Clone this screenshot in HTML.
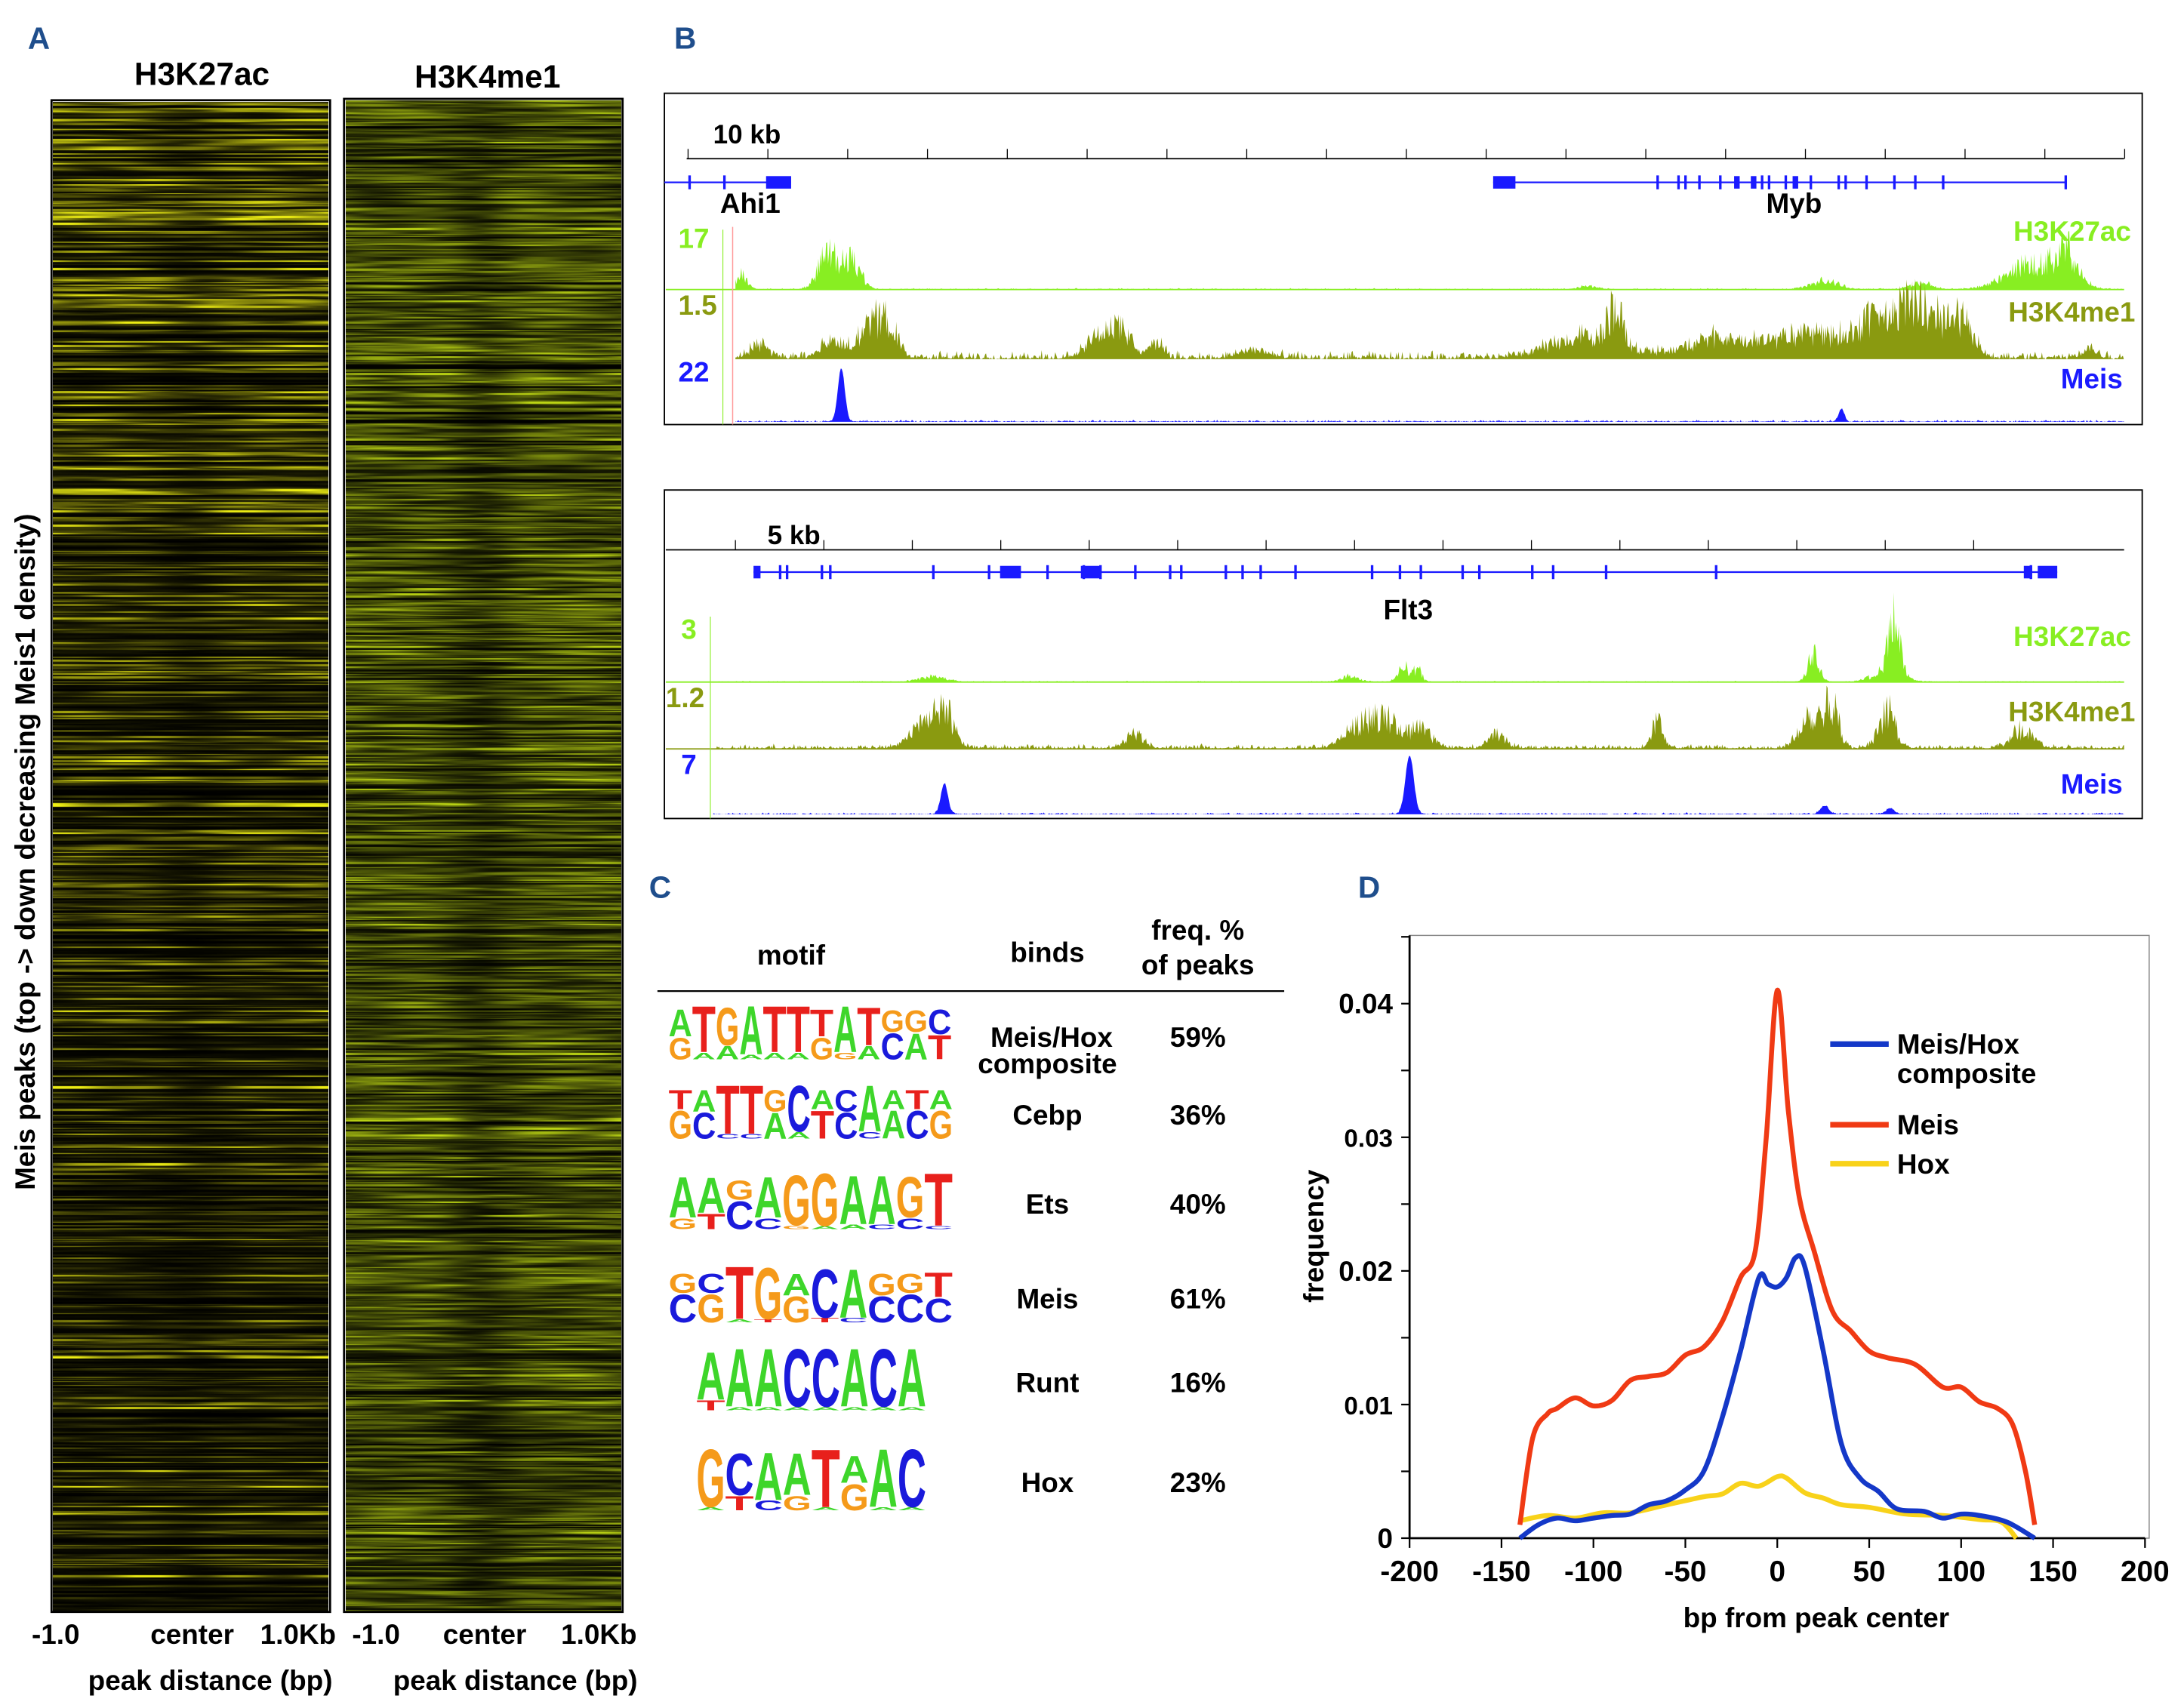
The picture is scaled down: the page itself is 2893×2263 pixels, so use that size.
<!DOCTYPE html>
<html><head><meta charset="utf-8">
<style>
html,body{margin:0;padding:0;background:#fff;}
#page{position:relative;width:2893px;height:2263px;overflow:hidden;background:#fff;}
svg{position:absolute;left:0;top:0;}
canvas{position:absolute;}
text{font-family:"Liberation Sans",Arial,sans-serif;font-weight:bold;}
</style></head>
<body>
<div id="page">
<canvas id="hm1"></canvas>
<canvas id="hm2"></canvas>
<svg id="svg" width="2893" height="2263" viewBox="0 0 1568 1227" preserveAspectRatio="none">
<text x="20" y="35" font-size="22" fill="#1f4e8c">A</text>
<text x="145" y="61" font-size="23" text-anchor="middle">H3K27ac</text>
<text x="350" y="63" font-size="23" text-anchor="middle">H3K4me1</text>
<rect x="37" y="72" width="200" height="1086" fill="none" stroke="#000" stroke-width="1.5"/>
<rect x="247" y="71" width="200" height="1087" fill="none" stroke="#000" stroke-width="1.5"/>
<text transform="translate(25,612) rotate(-90)" font-size="20" text-anchor="middle">Meis peaks  (top -&gt; down decreasing Meis1 density)</text>
<g font-size="20">
<text x="40" y="1181" text-anchor="middle">-1.0</text>
<text x="138" y="1181" text-anchor="middle">center</text>
<text x="214" y="1181" text-anchor="middle">1.0Kb</text>
<text x="270" y="1181" text-anchor="middle">-1.0</text>
<text x="348" y="1181" text-anchor="middle">center</text>
<text x="430" y="1181" text-anchor="middle">1.0Kb</text>
</g>
<text x="151" y="1214" font-size="20" text-anchor="middle">peak distance (bp)</text>
<text x="370" y="1214" font-size="20" text-anchor="middle">peak distance (bp)</text>

<text x="484" y="35" font-size="22" fill="#1f4e8c">B</text>
<rect x="477" y="67" width="1061" height="238" fill="none" stroke="#000" stroke-width="1"/>
<rect x="477" y="352" width="1061" height="236" fill="none" stroke="#000" stroke-width="1"/>
<g id="browser"></g>

<text x="466" y="645" font-size="22" fill="#1f4e8c">C</text>
<text x="568" y="693" font-size="20" text-anchor="middle">motif</text>
<text x="752" y="691" font-size="20" text-anchor="middle">binds</text>
<text x="860" y="675" font-size="20" text-anchor="middle">freq. %</text>
<text x="860" y="700" font-size="20" text-anchor="middle">of peaks</text>
<line x1="472" y1="712" x2="922" y2="712" stroke="#000" stroke-width="1.2"/>
<g id="motifs"></g>

<text x="975" y="645" font-size="22" fill="#1f4e8c">D</text>
<g id="chartD"></g>
</svg>
</div>
<script>
const S = 2893/1568;
const NS = 'http://www.w3.org/2000/svg';
function mk(tag, attrs, parent){const e=document.createElementNS(NS,tag);for(const k in attrs)e.setAttribute(k,attrs[k]);if(parent)parent.appendChild(e);return e;}
let seed=12345;function rnd(){seed=(seed*1103515245+12345)%2147483648;return seed/2147483648;}

/* ---------- Heatmaps (texture) ---------- */
function heat(id,x,y,w,h,kind){
  const c=document.getElementById(id);
  const W=Math.round(w*S),H=Math.round(h*S);
  c.width=W;c.height=H;c.style.left=(x*S)+'px';c.style.top=(y*S)+'px';
  const ctx=c.getContext('2d');const img=ctx.createImageData(W,H);const d=img.data;
  let r=0;
  while(r<H){
    const rh=1+Math.floor(rnd()*2.5);
    const t=r/H;
    let amp;
    if(kind===1){
      const dark=rnd()<0.25+0.35*t;
      amp=dark?rnd()*0.15:Math.pow(rnd(),1.1)*(1.0-0.5*t);
      if(rnd()<0.05)amp=0.95;
    } else {
      const dark=rnd()<0.2;
      amp=dark?rnd()*0.2:(0.3+0.55*Math.pow(rnd(),0.8))*(1-0.15*t);
      if(rnd()<0.05)amp=1;
    }
    const ph=rnd()*6,ph2=rnd()*6,ph3=rnd()*6;
    const dip=kind===1?0.1+0.45*rnd():0.2+0.5*rnd();
    const cx=0.5+0.06*Math.sin(r/H*14+ph3)+0.04*(rnd()-0.5);
    const cw=0.07+0.06*rnd();
    for(let xx=0;xx<W;xx++){
      const u=xx/W;
      const g=Math.exp(-Math.pow((u-cx)/cw,2));
      let v=amp*(1-dip*g)*(0.7+0.3*Math.sin(u*7+ph)+0.15*Math.sin(u*19+ph2));
      v=Math.max(0,Math.min(1,v));
      let R,G,B;
      if(kind===1){R=240*v;G=240*v;B=20*v;}else{R=190*v;G=215*v;B=20*v;}
      for(let yy=r;yy<Math.min(H,r+rh);yy++){const i=(yy*W+xx)*4;d[i]=R;d[i+1]=G;d[i+2]=B;d[i+3]=255;}
    }
    r+=rh;
  }
  ctx.putImageData(img,0,0);
}
heat('hm1',38,73,198,1084,1);
heat('hm2',248,72,198,1085,2);

/* ---------- Browser tracks ---------- */
const br=document.getElementById('browser');
const myb_k27=[[532,12,4],[595,30,7],[612,22,6],[1140,3,6],[1310,7,10],[1380,5,8],[1460,22,18],[1485,25,8]];
const myb_k4=[[545,12,6],[600,14,10],[627,28,8],[640,20,6],[790,18,10],[805,18,8],[830,12,5],[900,6,10],[1140,18,25],[1160,30,5],[1230,14,20],[1300,20,30],[1345,24,12],[1370,35,10],[1390,28,12],[1410,24,8],[1500,8,5]];
const myb_meis=[[604,38,2.5],[1322,9,2]];
const flt_k27=[[670,4,10],[970,5,6],[1008,13,4],[1018,10,3],[1302,22,4],[1360,42,4],[1355,10,10]];
const flt_k4=[[665,24,10],[680,22,6],[815,12,6],[975,18,10],[995,22,10],[1020,16,8],[1075,12,6],[1190,22,4],[1300,28,8],[1315,35,5],[1355,30,6],[1452,14,8]];
const flt_meis=[[678,22,2.5],[1012,42,3],[1310,6,3],[1357,4,3]];
function track(x0,x1,base,peaks,noise,col,spiky,name){
  let p='M'+x0+','+base;
  for(let x=x0;x<=x1;x+=0.7){
    let v=0;for(const k of peaks){v+=k[1]*Math.exp(-0.5*Math.pow((x-k[0])/k[2],2));}
    v=v*(spiky?(0.4+0.9*rnd()):1)+noise*rnd()*rnd();
    p+=' L'+x.toFixed(1)+','+(base-v).toFixed(1);
  }
  p+=' L'+x1+','+base+' Z';
  const e=mk('path',{d:p,fill:col,stroke:'none'},br);
  
  
}
function scaleBar(y,x0,x1,ticks,label,lx,ly,name){
  const g=mk('g',{},br);
  
  
  mk('line',{x1:x0,y1:y,x2:x1,y2:y,stroke:'#000','stroke-width':1},g);
  for(const t of ticks)mk('line',{x1:t,y1:y-7,x2:t,y2:y,stroke:'#000','stroke-width':0.7},g);
  const tx=mk('text',{x:lx,y:ly,'font-size':19},g);tx.textContent=label;
}
function gene(y,x0,x1,exons,thick,name){
  const g=mk('g',{},br);
  
  
  mk('line',{x1:x0,y1:y,x2:x1,y2:y,stroke:'#1a1aff','stroke-width':1.2},g);
  for(const e of exons)mk('rect',{x:e-0.8,y:y-5,width:1.8,height:10,fill:'#1a1aff'},g);
  for(const t of thick)mk('rect',{x:t[0],y:y-4.5,width:t[1],height:9,fill:'#1a1aff'},g);
}
function label(x,y,txt,col,size,anchor,name){
  const t=mk('text',{x:x,y:y,'font-size':size,fill:col,'text-anchor':anchor||'start'},br);
  t.textContent=txt;
  
  
}
const K27='#88ee22',K4='#8a9a10',MB='#1a1aff';
const t1=[];for(let i=0;i<19;i++)t1.push(494+i*57.3);
scaleBar(114,493,1525,t1,'10 kb',512,103,'scale-bar-10kb');
gene(131,477,568,[495,520],[[550,18]],'gene-ahi1');
gene(131,1072,1483,[1190,1205,1210,1220,1235,1265,1270,1282,1300,1320,1325,1340,1360,1375,1395,1483],[[1072,16],[1245,4],[1257,4],[1287,4]],'gene-myb');
label(517,153,'Ahi1','#000',20,'start','gene-label-ahi1');
label(1268,153,'Myb','#000',20,'start','gene-label-myb');
mk('line',{x1:478,y1:208,x2:1525,y2:208,stroke:K27,'stroke-width':1},br);
track(528,1525,208,myb_k27,1.2,K27,true,'track-myb-h3k27ac');
track(528,1525,258,myb_k4,7,K4,true,'track-myb-h3k4me1');
track(528,1525,303,myb_meis,1.5,MB,false,'track-myb-meis');
mk('line',{x1:526,y1:163,x2:526,y2:305,stroke:'#ff9999','stroke-width':0.8},br);
mk('line',{x1:519,y1:165,x2:519,y2:305,stroke:K27,'stroke-width':0.6},br);
label(487,178,'17',K27,20,'start','axis-max-myb-h3k27ac');
label(487,226,'1.5',K4,20,'start','axis-max-myb-h3k4me1');
label(487,274,'22',MB,20,'start','axis-max-myb-meis');
label(1530,173,'H3K27ac',K27,20,'end','track-name-myb-h3k27ac');
label(1533,231,'H3K4me1',K4,20,'end','track-name-myb-h3k4me1');
label(1524,279,'Meis',MB,20,'end','track-name-myb-meis');
const t2=[];for(let i=0;i<15;i++)t2.push(528+i*63.5);
scaleBar(395,478,1525,t2,'5 kb',551,391,'scale-bar-5kb');
gene(411,541,1477,[560,565,590,596,670,710,752,778,790,815,840,848,880,892,905,930,985,1005,1020,1050,1062,1100,1115,1153,1232,1458],[[541,5],[718,15],[776,14],[1453,6],[1463,14]],'gene-flt3');
label(1011,445,'Flt3','#000',20,'middle','gene-label-flt3');
mk('line',{x1:478,y1:490,x2:1525,y2:490,stroke:K27,'stroke-width':1},br);
track(512,1525,490,flt_k27,1,K27,true,'track-flt3-h3k27ac');
track(512,1525,538,flt_k4,4,K4,true,'track-flt3-h3k4me1');
track(512,1525,585,flt_meis,1.5,MB,false,'track-flt3-meis');
mk('line',{x1:478,y1:538,x2:1525,y2:538,stroke:K4,'stroke-width':1},br);
mk('line',{x1:510,y1:443,x2:510,y2:588,stroke:K27,'stroke-width':0.6},br);
label(489,459,'3',K27,20,'start','axis-max-flt3-h3k27ac');
label(478,508,'1.2',K4,20,'start','axis-max-flt3-h3k4me1');
label(489,556,'7',MB,20,'start','axis-max-flt3-meis');
label(1530,464,'H3K27ac',K27,20,'end','track-name-flt3-h3k27ac');
label(1533,518,'H3K4me1',K4,20,'end','track-name-flt3-h3k4me1');
label(1524,570,'Meis',MB,20,'end','track-name-flt3-meis');

/* ---------- Motifs ---------- */
const mg=document.getElementById('motifs');
const COL={A:'#3ed62a',C:'#1a1adb',G:'#f59a1a',T:'#e8201c'};
const motifMain=['ATGATTTATGGC','TATTGCACAATA','AAGAGGAAGT','GCTGACAGGT','AAACCACA','GCAATAAC'];
const motifSub=['GAAAAAGGACAT','GCCCAATCCACG','GTCCGAACCC','CGATGTCCCC','TAAAAAAA','ATCGAGAA'];
const motifH=[[.5,.85,.7,.9,.85,.85,.5,.85,.7,.4,.4,.45],[.35,.4,.9,.9,.4,.85,.35,.4,.85,.35,.35,.35],[.75,.65,.35,.75,.92,.97,.9,.9,.75,.97],[.35,.35,.97,.95,.4,.9,.9,.4,.35,.45],[.8,.97,.97,.97,.97,.97,.97,.97],[.97,.7,.8,.7,.97,.45,.97,.97]];
const motifBinds=[['Meis/Hox','composite'],['Cebp'],['Ets'],['Meis'],['Runt'],['Hox']];
const motifFreq=['59%','36%','40%','61%','16%','23%'];
const rowBase=[761,818,883,950,1013,1085];
const rowX=[[480,683],[480,684],[480,684],[480,684],[500,665],[500,665]];
const rowText=[752,808,872,940,1000,1072];
for(let i=0;i<motifMain.length;i++){
  const g=mk('g',{},mg);
  
  
  const s=motifMain[i],n=s.length,x0=rowX[i][0],wl=(rowX[i][1]-x0)/n,Htot=i>=4?44:40,base=rowBase[i];
  for(let j=0;j<n;j++){
    const h=motifH[i][j];
    const sub=Math.max(2,(1-h)*0.8*Htot);
    const mh=h*Htot;
    const put=(ch,yb,hp)=>{
      const t=mk('text',{x:0,y:0,'font-size':20,fill:COL[ch],textLength:wl,lengthAdjust:'spacingAndGlyphs',transform:`translate(${(x0+j*wl).toFixed(1)},${yb.toFixed(1)}) scale(1,${(hp/14.4).toFixed(3)})`},g);
      t.textContent=ch;
    };
    put(motifSub[i][j],base,sub);
    put(s[j],base-sub-0.5,mh);
  }
  const b=motifBinds[i];
  if(b.length===2){
    const t1=mk('text',{x:755,y:rowText[i],'font-size':20,'text-anchor':'middle'},g);t1.textContent=b[0];
    const t2=mk('text',{x:752,y:rowText[i]+19,'font-size':20,'text-anchor':'middle'},g);t2.textContent=b[1];
  } else {const t=mk('text',{x:752,y:rowText[i],'font-size':20,'text-anchor':'middle'},g);t.textContent=b[0];}
  const f=mk('text',{x:860,y:rowText[i],'font-size':20,'text-anchor':'middle'},g);f.textContent=motifFreq[i];
}

/* ---------- Chart D ---------- */
const xTicks=[-200,-150,-100,-50,0,50,100,150,200];
const yTicks=[0,0.01,0.02,0.03,0.04];
const yTickLabels=['0','0.01','0.02','0.03','0.04'];
const compX=[-140,-130,-120,-110,-100,-90,-80,-70,-60,-50,-40,-30,-20,-10,-5,0,5,10,15,25,35,45,55,65,80,90,100,110,125,140];
const compY=[0,0.001,0.0015,0.0013,0.0015,0.0017,0.0018,0.0025,0.0028,0.0036,0.005,0.009,0.014,0.0195,0.019,0.0188,0.0195,0.021,0.0203,0.014,0.007,0.0045,0.0035,0.0022,0.002,0.0015,0.0018,0.0017,0.0012,0];
const meisX=[-140,-133,-125,-120,-110,-100,-90,-80,-70,-60,-50,-40,-30,-20,-12,-6,0,6,12,20,30,40,50,60,75,90,100,110,120,128,135,140];
const meisY=[0.001,0.0075,0.0093,0.0097,0.0105,0.0099,0.0103,0.0118,0.0121,0.0124,0.0137,0.0143,0.0162,0.0195,0.0215,0.03,0.041,0.032,0.0255,0.0215,0.017,0.0155,0.014,0.0135,0.013,0.0113,0.0113,0.0102,0.0097,0.0085,0.005,0.001];
const hoxX=[-140,-125,-110,-95,-80,-60,-40,-30,-20,-10,0,5,15,25,35,50,70,90,110,122,130];
const hoxY=[0.0013,0.0017,0.0015,0.0019,0.0019,0.0025,0.0031,0.0033,0.0041,0.0039,0.0046,0.0045,0.0034,0.003,0.0025,0.0023,0.0018,0.0017,0.0014,0.0012,0];
const cg=document.getElementById('chartD');
const px=v=>1012+(v+200)*(528/400);
const py=v=>1105-v*(384/0.04);
const frame=mk('rect',{x:1012,y:672,width:531,height:433,fill:'none',stroke:'#888','stroke-width':0.8},cg);


const xa=mk('line',{x1:1012,y1:1105,x2:1540,y2:1105,stroke:'#000','stroke-width':1.5},cg);


const ya=mk('line',{x1:1012,y1:672,x2:1012,y2:1105,stroke:'#000','stroke-width':1.5},cg);


for(const t of xTicks){
  mk('line',{x1:px(t),y1:1105,x2:px(t),y2:1112,stroke:'#000','stroke-width':1.2},cg);
  const l=mk('text',{x:px(t),y:1136,'font-size':21,'text-anchor':'middle'},cg);
  
  
  l.textContent=t;
}
for(let v=0;v<=0.045001;v+=0.005){mk('line',{x1:1006,y1:py(v),x2:1012,y2:py(v),stroke:'#000','stroke-width':1.2},cg);}
yTicks.forEach((t,i)=>{
  const l=mk('text',{x:1000,y:py(t)+7,'font-size':i===0||i===2||i===4?20:18,'text-anchor':'end'},cg);
  
  
  l.textContent=yTickLabels[i];
});
const xt=mk('text',{x:1304,y:1169,'font-size':20,'text-anchor':'middle'},cg);


xt.textContent='bp from peak center';
const yt=mk('text',{transform:'translate(950,888) rotate(-90)','font-size':20,'text-anchor':'middle'},cg);


yt.textContent='frequency';
function smooth(xs,ys){
  const P=xs.map((x,i)=>[px(x),py(ys[i])]);
  let d='M'+P[0][0].toFixed(1)+','+P[0][1].toFixed(1);
  for(let i=0;i<P.length-1;i++){
    const p0=P[Math.max(0,i-1)],p1=P[i],p2=P[i+1],p3=P[Math.min(P.length-1,i+2)];
    const c1=[p1[0]+(p2[0]-p0[0])/6,p1[1]+(p2[1]-p0[1])/6],c2=[p2[0]-(p3[0]-p1[0])/6,p2[1]-(p3[1]-p1[1])/6];
    d+=` C${c1[0].toFixed(1)},${c1[1].toFixed(1)} ${c2[0].toFixed(1)},${c2[1].toFixed(1)} ${p2[0].toFixed(1)},${p2[1].toFixed(1)}`;
  }
  return d;
}
const lh=mk('path',{d:smooth(hoxX,hoxY),fill:'none',stroke:'#f8d21a','stroke-width':3.5},cg);


const lc=mk('path',{d:smooth(compX,compY),fill:'none',stroke:'#1438c8','stroke-width':3.5},cg);


const lm=mk('path',{d:smooth(meisX,meisY),fill:'none',stroke:'#f03a14','stroke-width':3.5},cg);


const legend=[['#1438c8','Meis/Hox',757,'composite'],['#f03a14','Meis',815,null],['#f8d21a','Hox',843,null]];
for(const L of legend){
  const g=mk('g',{},cg);
  
  
  mk('line',{x1:1314,y1:L[2]-7,x2:1356,y2:L[2]-7,stroke:L[0],'stroke-width':4},g);
  const t=mk('text',{x:1362,y:L[2],'font-size':20},g);t.textContent=L[1];
  if(L[3]){const t2=mk('text',{x:1362,y:L[2]+21,'font-size':20},g);t2.textContent=L[3];}
}
</script>
</body></html>
